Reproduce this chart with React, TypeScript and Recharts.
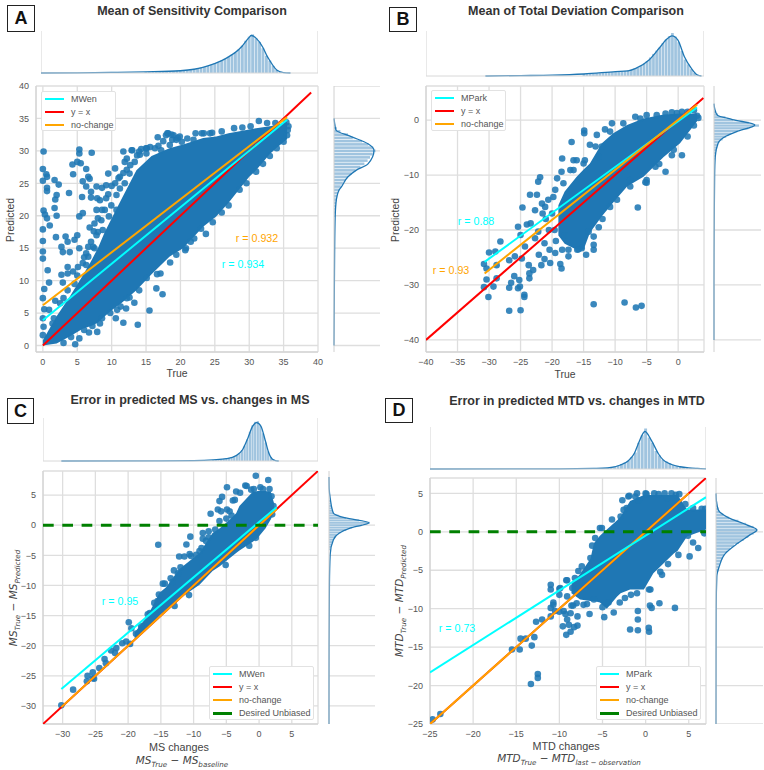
import { ComposedChart, Area, Bar, Line, Scatter, XAxis, YAxis, CartesianGrid } from "recharts";

const BLUE = "#1f77b4";
const HIST = "#a0c4df";
const GRID = "#dedede";
const CYAN = "#00ffff";
const RED = "#ff0000";
const ORANGE = "#ffa500";
const GREEN = "#008000";
const TICK = "#555555";
const SANS = "'Liberation Sans', Arial, sans-serif";

// panel A: Mean of Sensitivity
const aXTicks = [0, 5, 10, 15, 20, 25, 30, 35, 40];
const aYTicks = [0, 5, 10, 15, 20, 25, 30, 35, 40];
const aCloudX = [0, 2, 3.9, 5.8, 7, 8, 9, 10.2, 11.4, 13.6, 15.8, 18.4, 20.4, 23.3, 25.2, 27, 30, 31, 33, 34, 35.5];
const aCloudLow = [0, 0.3, 1.4, 2.6, 3, 3.5, 4.5, 5.6, 6.5, 8.5, 11, 13.7, 15, 18.3, 19.9, 22, 26, 27, 29.5, 30.5, 31.8];
const aCloudHigh = [0.8, 4.5, 7.5, 10.8, 13, 15, 17.5, 20, 22.5, 27, 29.2, 30.4, 31, 32, 32.2, 32.7, 33.3, 33.5, 33.8, 34, 34.5];
const aPoints = [
  [0.1, 29.9], [0, 27.2], [0.5, 26.4], [0.6, 26], [0, 25.4], [0.6, 24.3], [1.7, 25.5], [2.3, 24.8], [4.3, 27.9], [5, 28.3], [5.5, 28.1],
  [5.3, 30.2], [5.3, 29.6], [7.1, 29.7], [6.3, 27.2], [4.4, 26.4], [6.6, 26], [6.8, 25.7], [9.5, 26.5], [10.5, 27.3], [5.8, 25.3], [6.3, 24.5],
  [7.8, 24.5], [9.2, 24.7], [7, 23.7], [8.6, 24.3], [11.7, 29.9], [13, 30.1], [11.7, 26.6], [11.9, 28.3], [12.2, 27.1], [12.9, 30.1], [13.7, 29.3], [15.1, 30.4], [16.7, 32.1], [18.1, 32.7],
  [19, 32.4], [20.2, 31.4], [22.2, 32.7], [23.4, 32.7], [27.8, 33.5], [31.4, 34.6], [33.8, 34.3], [14, 29.9], [14.3, 30.3], [15.6, 30.6], [16.8, 30.8],
  [17.5, 31.5], [18.8, 31.7], [21, 31.9], [24.6, 32.8], [26, 33], [29, 33.6], [30.2, 33.8], [32.6, 34.3], [10.5, 25], [11, 25.8], [12.2, 28.8], [17.9, 32.4], [19.6, 32],
  [7.5, 18.8], [8.5, 19.3], [9, 20.9], [9.95, 21.6], [10.7, 23.2], [11.2, 24.2], [11.9, 25], [12.6, 26.5], [13.35, 28.3], [14.1, 29.4], [15.05, 29.6], [16.3, 30.4], [17.2, 30.1], [18.45, 30.9],
  [19.4, 31.7], [19.9, 32.2], [18.2, 32.7], [18.7, 32.5], [21.9, 31.7], [23.1, 32.7], [24.3, 32.7], [9.6, 19.9], [10.7, 20.9], [8.7, 17.8], [7.8, 17], [7.3, 15.2], [6.6, 13.7], [5.8, 12.7],
  [0.6, 23.8], [1.8, 22.5], [2, 23.2], [3.8, 23.5], [1.7, 21.2], [0.1, 20.8], [0.3, 20.2], [0.6, 19.6], [2, 20], [1, 18.5], [0, 17.9], [1.9, 16.7], [0, 16.1],
  [3.3, 16.8], [3.6, 16], [2.7, 15.2], [0, 14.5], [2.9, 14.4], [3.9, 14.4], [0, 13.4], [0.7, 11.6], [3.6, 12.1], [2.7, 10.9], [3.6, 11.1], [4.4, 11.4], [0.9, 9.7],
  [2.9, 9.7], [0.2, 8.7], [0, 7.3], [1.8, 6.9], [3, 7.3], [0.2, 5.6], [0.9, 5.5], [0, 4.2], [1.6, 4.2], [0.1, 2.9], [0, 1.6], [5, 17], [5.3, 15], [6.3, 14.2],
  [5.3, 19.9], [5.8, 20.4], [5.7, 22.9], [7.9, 22.7], [7.8, 20.9], [9.2, 22.7], [8.3, 22.4], [7, 22.8], [6.8, 18.2], [8, 17.5], [4.6, 16.3], [7, 16], [7.5, 15], [5.1, 12.1], [6.3, 12.4],
  [9.5, 23.3], [10, 24.6], [8.6, 20.9], [8, 19.6], [7.4, 17.6], [6.6, 15.2], [6, 13.6], [4.6, 9.5], [3.6, 8.5], [2.5, 6.5], [1.4, 3.4], [5, 10.8], [11.2, 26], [12.7, 27.8], [15, 30.4],
  [15.5, 5.4], [17.4, 7.9], [16.5, 8.8], [13.8, 3.2], [11.7, 3.5], [10.6, 4.2], [13.3, 6.6], [12.1, 5.7], [11.3, 6], [12.2, 7.3], [8.3, 3.4], [6.7, 2], [7.9, 2.1],
  [4.7, 0.2], [4.1, 1.3], [5.3, 1.1], [3, 0.4], [17.1, 11.1], [15.1, 10.4], [20.8, 15], [23.7, 17.2], [24.7, 19], [20.7, 14.7], [18.5, 12.8], [14, 8.5], [22, 16.5], [16.6, 11], [19.4, 14],
  [21.5, 16], [23, 18], [26, 20.5], [27, 21.6], [28.6, 24], [29.6, 25], [31, 26.8], [32, 28], [33, 29.2], [34, 30.4], [35, 31.4], [35.5, 32.4], [35.6, 33.2], [35.7, 33.8], [35.4, 34.4],
  [9.8, 5], [10.8, 5.5], [8.6, 4.2], [7.2, 3], [6, 2.4], [12.6, 7.4],
];
const aFitX = [0, 35.5];
const aCyan = [3.9, 34.8];
const aOrange = [6.2, 35.2];
const aRedX = [0, 39];
const aRed = [0, 39];
const aTopBins = [15, 15.5, 16, 16.5, 17, 17.5, 18, 18.5, 19, 19.5, 20, 20.5, 21, 21.5, 22, 22.5, 23, 23.5, 24, 24.5, 25, 25.5, 26, 26.5, 27, 27.5, 28, 28.5, 29, 29.5, 30, 30.5, 31, 31.5, 32, 32.5, 33, 33.5, 34, 34.5, 35];
const aTopBars = [0.03, 0.03, 0.04, 0.03, 0.04, 0.04, 0.04, 0.05, 0.05, 0.06, 0.07, 0.07, 0.08, 0.1, 0.11, 0.13, 0.15, 0.16, 0.19, 0.22, 0.26, 0.29, 0.33, 0.38, 0.43, 0.49, 0.55, 0.63, 0.73, 0.86, 0.97, 1.03, 0.93, 0.83, 0.66, 0.46, 0.33, 0.19, 0.08, 0.04, 0.01];
const aTopKdeX = [-0.3, 5, 10, 15, 20, 22, 24, 26, 27, 28, 29, 30, 30.3, 31, 32, 32.6, 33, 34, 35, 36];
const aTopKde = [0, 0.005, 0.015, 0.03, 0.06, 0.1, 0.19, 0.33, 0.43, 0.55, 0.72, 0.95, 1, 0.93, 0.68, 0.45, 0.33, 0.08, 0.01, 0];
const aSideBins = [20, 20.5, 21, 21.5, 22, 22.5, 23, 23.5, 24, 24.5, 25, 25.5, 26, 26.5, 27, 27.5, 28, 28.5, 29, 29.5, 30, 30.5, 31, 31.5, 32, 32.5, 33, 33.5, 34, 34.5];
const aSideBars = [0.03, 0.04, 0.04, 0.05, 0.05, 0.06, 0.08, 0.1, 0.13, 0.17, 0.22, 0.28, 0.35, 0.44, 0.54, 0.66, 0.76, 0.84, 0.9, 0.97, 1.04, 0.98, 0.86, 0.7, 0.47, 0.35, 0.16, 0.07, 0.03, 0.01];
const aSideKdeY = [0, 10, 18.9, 22, 24, 24.4, 26, 27, 28, 30.1, 31.1, 32.2, 33.2, 34.5, 35];
const aSideKde = [0, 0.01, 0.025, 0.05, 0.13, 0.18, 0.35, 0.55, 0.85, 1, 0.85, 0.43, 0.05, 0.01, 0];

// panel B: Mean of Total Deviation
const bXTicks = [-40, -35, -30, -25, -20, -15, -10, -5, 0];
const bYTicks = [-40, -30, -20, -10, 0];
const bCloudX = [-19, -18, -16.1, -15, -14, -12.1, -10.3, -8.1, -5.5, -2.3, 0.3, 3];
const bCloudLow = [-21, -22.5, -23.6, -23.6, -20.5, -17.5, -15, -12.1, -10.3, -6.7, -4.2, -0.2];
const bCloudHigh = [-15.5, -13, -10.3, -9, -7.9, -4.2, -2.4, -0.9, 0.3, 1, 1.2, 1.2];
const bPoints = [
  [-14.9, -1.9], [-14.9, -2.4], [-16.9, -4], [-18.4, -7], [-12.9, -2.7], [-11.6, -1.7], [-10.5, -0.6], [-6.8, 0.6], [-2, 1.2], [0.6, 1.5], [3.2, 0.4], [0.6, -6.4], [-2, -9.4],
  [-5.2, -11.3], [-21.9, -10.4], [-22.2, -11.2], [-19.2, -10.6], [-18.5, -9.4], [-16.6, -7.3], [-14.8, -7.3], [-13.1, -4.8], [-12.6, -6.7], [-19.5, -12.7],
  [-14, -4.5], [-12.1, -4.8], [-10.8, -2.1], [-8.7, -0.6], [-6, 0.3], [-3.4, 0.9], [-0.2, 1.3], [2.5, 1.8], [-5, 0.9], [-1, 1.4], [1.5, 1.5], [-6.4, -15.9], [-24.7, -15.9], [-23.5, -13.6], [-22.4, -13.6],
  [-25.4, -19.4], [-28.2, -22.1], [-25, -20.9], [-30, -24.1], [-29, -23.9], [-30.8, -26.2], [-30.4, -27], [-28.8, -26.4], [-26.8, -25.5], [-25.9, -24.8],
  [-24.8, -25.2], [-23.4, -18.8], [-22.7, -16.4], [-21.6, -15.2], [-30.4, -29], [-28.8, -28.8], [-30.8, -30.4], [-29.3, -30.3], [-30.1, -32.2], [-26, -28.4],
  [-25.2, -29.1], [-26.5, -29.6], [-26.8, -30.5], [-25.1, -30.3], [-25.4, -30.6], [-24.4, -31.8], [-24.4, -32.2], [-26.8, -34.7], [-25, -34.6], [-23.6, -28.8],
  [-23.6, -27.9], [-23, -27.3], [-23.7, -26.4], [-22.1, -24.5], [-21.7, -26.4], [-21.2, -25.3], [-20.3, -26], [-18.5, -27], [-18.7, -26.2], [-17.4, -24.8],
  [-19.5, -24.2], [-18.4, -23.6], [-17.4, -23.6], [-13.4, -33.5], [-8.5, -33.2], [-6.7, -34.1], [-5.8, -33.8], [-13.4, -23.6], [-13.4, -22.7], [-13.4, -21.2],
  [-14.6, -24.5], [-14.2, -20.3], [-15.3, -23.3], [-15.8, -23.5], [-24.3, -23], [-22.7, -21.5], [-22.2, -20.3], [-21.2, -22.4], [-20.4, -23.6], [-21.1, -15.8],
  [-20.6, -14.5], [-21, -18], [-20.5, -20], [-21.5, -17], [-19.8, -14], [-24, -19], [-18.2, -11.5], [-17.1, -9.1], [-16.6, -9.1], [-16.1, -7.3], [-15, -7.9],
  [-0.7, -5.4], [-5, -10.9], [-3.6, -8.5], [-7.6, -12.1], [-7.6, -10.9], [-9.7, -14.5], [-10.8, -15.8], [-5, -11.4], [-12, -18], [-12.6, -19.5], [-1, -6.4], [-3, -8], [1.5, -3], [2.5, -1], [3, 0.8],
  [-18, -15], [-20, -17], [-19.4, -22], [-19.6, -20], [-18, -21], [-16, -23.6],
];
const bFitX = [-30.7, 3];
const bCyan = [-25.8, 2.3];
const bOrange = [-27.9, 2.8];
const bRedX = [-40, 4];
const bRed = [-40, 4];
const bTopBins = [-15, -14.5, -14, -13.5, -13, -12.5, -12, -11.5, -11, -10.5, -10, -9.5, -9, -8.5, -8, -7.5, -7, -6.5, -6, -5.5, -5, -4.5, -4, -3.5, -3, -2.5, -2, -1.5, -1, -0.5, 0, 0.5, 1, 1.5, 2, 2.5, 3];
const bTopBars = [0.05, 0.05, 0.06, 0.06, 0.07, 0.07, 0.08, 0.09, 0.1, 0.1, 0.11, 0.11, 0.12, 0.13, 0.14, 0.15, 0.18, 0.21, 0.25, 0.31, 0.37, 0.46, 0.55, 0.63, 0.71, 0.82, 0.91, 0.99, 1.07, 0.98, 0.84, 0.62, 0.41, 0.29, 0.17, 0.08, 0.02];
const bTopKdeX = [-30.6, -25, -20, -15, -10, -8, -6.8, -4.7, -3.1, -2, -1.06, -0.15, 0.9, 2, 3, 3.6];
const bTopKde = [0, 0.01, 0.02, 0.05, 0.11, 0.13, 0.19, 0.4, 0.69, 0.9, 1, 0.9, 0.48, 0.19, 0.02, 0];
const bSideBins = [-7, -6.5, -6, -5.5, -5, -4.5, -4, -3.5, -3, -2.5, -2, -1.5, -1, -0.5, 0, 0.5, 1, 1.5, 2];
const bSideBars = [0.03, 0.04, 0.05, 0.07, 0.08, 0.1, 0.13, 0.21, 0.3, 0.42, 0.58, 0.84, 1.1, 0.85, 0.46, 0.28, 0.1, 0.05, 0.02];
const bSideKdeY = [-40, -30, -20, -10, -6.7, -4.2, -2.9, -2.1, -0.9, 0.1, 0.9, 2, 3];
const bSideKde = [0, 0, 0.005, 0.015, 0.03, 0.1, 0.3, 0.55, 1, 0.45, 0.08, 0.02, 0];

// panel C: error vs. changes in MS
const cXTicks = [-30, -25, -20, -15, -10, -5, 0, 5];
const cYTicks = [-30, -25, -20, -15, -10, -5, 0, 5];
const cCloudX = [-19, -17, -15.2, -14.2, -12.2, -9.1, -7.1, -6, -4.5, -3.5, -3, -1, -0.2, 1, 1.8, 2.3];
const cCloudLow = [-18.8, -17, -15, -14, -12.2, -9.9, -7.6, -6.8, -5.5, -4.6, -4.2, -2.8, -2.1, -0.5, 1, 2.2];
const cCloudHigh = [-17.8, -15, -11.2, -10.3, -7.3, -4.6, -1.3, -0.5, 0.9, 2, 3.2, 5.5, 5.7, 5.7, 5.5, 3.6];
const cPoints = [
  [-0.5, 8.2], [1.4, 7.5], [-4.9, 6.3], [-2.1, 6.6], [-1.9, 6.5], [0.2, 6.3], [1.6, 6], [-3.5, 5.6], [-5.65, 4.7], [-6.05, 4], [-4, 4.1], [-3.7, 4.2], [-6.3, 2.6],
  [-4.9, 2.6], [-4.5, 2.3], [-7.4, 1.9], [-5.8, 2.3], [-6.05, 0.7], [-5, 1.1], [-8.6, -1.3], [-7.7, -1], [-10.5, -1.9], [-8.6, -2.25], [-15.4, -3.25],
  [-11.1, -3.2], [-8.1, -2.6], [-9.1, -4.3], [-12.2, -5.2], [-11.4, -5.2], [-10.4, -5.1], [-9.6, -4.9], [-12.4, -8], [-5.1, -6.6], [-1.5, -3.4], [-0.5, -2.1],
  [-19.9, -16.1], [-14.7, -9.7], [-14.4, -9.7], [-13.2, -9.4], [-15.3, -11.5], [-15.5, -12.6], [-16, -12.9], [-16.7, -14.6], [-10.7, -11.6], [-12.9, -13.4], [-28.4, -27.3],
  [-30.2, -29.9], [-26.3, -25.9], [-26.2, -25], [-25.4, -25.4], [-25.2, -25.5], [-25.4, -24.4], [-24.4, -23.7], [-23.6, -22.2], [-23.4, -22.9], [-22.6, -20.8],
  [-21.8, -20.4], [-22, -21.2], [-20.9, -19.6], [-19.7, -19.7], [-20.3, -19.3], [-18.8, -18], [-19.5, -17.1], [-18, -16.8], [-17, -14.8], [-13, -7.5], [-12, -7],
  [-13.5, -8.8], [1.9, 4.8], [-0.8, 6], [-2.9, 5.4], [-1.2, 5.9], [0.6, 6], [-15, -14], [-13, -12.5], [-11.5, -10.5], [-10.6, -4.8], [-8.8, -3.8], [-7.7, -2], [-6.7, -0.7], [-4.2, 1.6], [2.2, 3.2], [2, 1.8],
];
const cFitX = [-30.2, 2.7];
const cCyan = [-27.2, 3];
const cOrange = [-30.2, 2.7];
const cRedX = [-33, 9];
const cRed = [-33, 9];
const cTopBins = [-7, -6.6, -6.2, -5.8, -5.4, -5, -4.6, -4.2, -3.8, -3.4, -3, -2.6, -2.2, -1.8, -1.4, -1, -0.6, -0.2, 0.2, 0.6, 1, 1.4, 1.8, 2.2];
const cTopBars = [0.03, 0.03, 0.04, 0.05, 0.05, 0.06, 0.08, 0.1, 0.12, 0.15, 0.2, 0.28, 0.4, 0.56, 0.76, 0.93, 1.02, 1.04, 0.92, 0.72, 0.48, 0.25, 0.1, 0.03];
const cTopKdeX = [-30.2, -15, -10, -7, -5, -3.5, -2.5, -1.7, -1, -0.36, 0.3, 1, 1.5, 2, 2.5, 3];
const cTopKde = [0, 0.003, 0.01, 0.03, 0.06, 0.14, 0.3, 0.6, 0.9, 1, 0.9, 0.5, 0.2, 0.05, 0.01, 0];
const cSideBins = [-4, -3.6, -3.2, -2.8, -2.4, -2, -1.6, -1.2, -0.8, -0.4, 0, 0.4, 0.8, 1.2, 1.6, 2, 2.4, 2.8, 3.2, 3.6, 4];
const cSideBars = [0.04, 0.05, 0.07, 0.09, 0.11, 0.15, 0.2, 0.29, 0.43, 0.58, 0.82, 1.02, 0.75, 0.43, 0.24, 0.12, 0.09, 0.07, 0.05, 0.04, 0.03];
const cSideKdeY = [-33, -30, -20, -10, -4.8, -2.4, -1.3, -0.4, 0.4, 1.2, 2, 4.5, 6, 8];
const cSideKde = [0, 0, 0.002, 0.01, 0.03, 0.11, 0.26, 0.56, 1, 0.41, 0.11, 0.03, 0.005, 0];

// panel D: error vs. changes in MTD
const dXTicks = [-25, -20, -15, -10, -5, 0, 5];
const dYTicks = [-25, -20, -15, -10, -5, 0, 5];
const dCloudX = [-8.6, -7.6, -6.4, -6, -5.3, -4.5, -3.3, -2.9, -1.8, -0.2, 0.9, 3.3, 3.7, 4.8, 7];
const dCloudLow = [-8, -8.8, -9, -9, -9.2, -10, -8.4, -8, -7.5, -7.5, -5.4, -2.8, -2.5, -0.6, 0.3];
const dCloudHigh = [-6.8, -5.5, -3.5, -1.5, -0.5, 0.3, 1.5, 2, 4, 4.8, 4.8, 4.8, 4.8, 2.9, 2.9];
const dPoints = [
  [-2.7, 4.1], [-2.2, 3.1], [-2.9, 2], [-3.9, 1.6], [-5.07, 0.5], [-5.85, -0.8], [-6.2, -1.8], [-6.4, -3.4], [-7.4, -4.5], [-7.8, -5.1], [-8.2, -6], [-9.1, -6.3], [-9.9, -7.3],
  [-11, -6.9], [-11, -7.5], [-9.1, -8.4], [-10.7, -9.2], [-11, -9.9], [-9.5, -10.3], [-8, -9.3], [-8.4, -9.6], [-7.9, -11], [-6.5, -10.7], [-4.8, -11.1], [-3.7, -10.5], [-4.3, -9.2], [-6, -8.8],
  [0.55, -7.5], [0.5, -9.6], [1.6, -9.3], [3.4, -9.9], [5.1, -3.2], [6.1, -2.1], [5.5, -1.4], [6.8, -0.2], [-0.9, -10.3], [-0.9, -11.4], [-1.8, -12.7], [0.36, -12.5], [-0.8, 4.1], [0.1, 4.9], [1.5, 4.9],
  [3.5, 4.8], [-1.2, 4.6], [2.5, 4.4], [-2.55, 2.85], [-5.3, 0.5], [-10, -7.4], [-10, -8.2], [-10.7, -9.5], [-10.5, -10.3], [-11, -11], [-10, -10.4], [-9.3, -10.7], [-9.2, -6.3], [-8.5, -7.3],
  [-8.6, -9.6], [-7.2, -9.5], [-9.1, -11.4], [-8.7, -10.6], [-9.6, -12.3], [-7.9, -12.2], [-8.9, -12.1], [-9.2, -13.4], [-8.7, -13], [-8.3, -12.4], [-0.9, -12.8], [0.4, -13], [0.7, -9.9],
  [-12.7, -11.7], [-12, -11.4], [-12.9, -13.7], [-14.5, -13.9], [-13.9, -13.9], [-15.5, -15.3], [-14.6, -15.3], [-13.2, -14.8], [-13.3, -19.8], [-12.5, -18.5], [-12.5, -19], [-24.7, -24.4],
  [-23.8, -23.7], [-1.7, -8.2], [0.4, -7.5], [1.9, -5.6], [-3, -9.2], [-2.4, -8.6], [-1, -8], [-2, 4.6], [-1, 5], [0, 5], [1, 5], [2.2, 5], [3, 5], [3.9, 4.9], [4.6, 3.6], [-1.9, 4.7], [6.9, 3], [6.5, 3], [5.5, 3.1], [4.9, -0.5],
  [3.8, -3], [2.6, -4.2], [1.7, -5.2], [-7, -7], [-5, -9.8], [-6.8, -9.4],
];
const dFitX = [-25, 7];
const dCyan = [-18.3, 4.5];
const dOrangeX = [-25, 5];
const dOrange = [-25, 5];
const dRedX = [-25, 7];
const dRed = [-25, 7];
const dTopBins = [-6, -5.6, -5.2, -4.8, -4.4, -4, -3.6, -3.2, -2.8, -2.4, -2, -1.6, -1.2, -0.8, -0.4, 0, 0.4, 0.8, 1.2, 1.6, 2, 2.4, 2.8, 3.2, 3.6, 4, 4.4, 4.8, 5.2, 5.6, 6];
const dTopBars = [0.015, 0.015, 0.02, 0.02, 0.03, 0.04, 0.06, 0.09, 0.12, 0.17, 0.22, 0.32, 0.44, 0.7, 0.9, 1.08, 0.84, 0.7, 0.48, 0.36, 0.25, 0.2, 0.15, 0.11, 0.08, 0.06, 0.05, 0.04, 0.03, 0.02, 0.015];
const dTopKdeX = [-25, -15, -10, -6, -5, -4, -3, -2, -1.3, -0.8, -0.08, 0.7, 1.5, 2, 3, 4, 5, 6, 7];
const dTopKde = [0, 0.002, 0.005, 0.015, 0.02, 0.04, 0.1, 0.22, 0.42, 0.7, 1, 0.75, 0.4, 0.25, 0.12, 0.06, 0.03, 0.015, 0.005];
const dSideBins = [-5, -4.6, -4.2, -3.8, -3.4, -3, -2.6, -2.2, -1.8, -1.4, -1, -0.6, -0.2, 0.2, 0.6, 1, 1.4, 1.8, 2.2, 2.6, 3, 3.4, 3.8, 4.2, 4.6];
const dSideBars = [0.06, 0.07, 0.09, 0.13, 0.17, 0.2, 0.27, 0.35, 0.44, 0.56, 0.68, 0.79, 0.92, 1.01, 0.92, 0.74, 0.55, 0.32, 0.18, 0.09, 0.06, 0.04, 0.03, 0.02, 0.01];
const dSideKdeY = [-25, -10, -5.8, -4.5, -2.8, -1.5, -0.4, 0.25, 0.9, 1.85, 2.8, 4, 5];
const dSideKde = [0, 0.005, 0.02, 0.08, 0.23, 0.53, 0.83, 1, 0.75, 0.3, 0.06, 0.01, 0];

const zip = (xs: number[], ys: number[]) => xs.map((x, i) => ({ x, y: ys[i] }));
const minus = (v: number) => String(v).replace("-", "\u2212");

function dot(p: any) {
  return <circle cx={p.cx} cy={p.cy} r={3.3} fill={BLUE} fillOpacity={0.88} />;
}

function MainPlot({ left, top, width, height, yw, xDomain, yDomain, xTicks, yTicks, cloudX, cloudLow, cloudHigh, points, fits, dashed }: any) {
  const cloud = cloudX.map((x: number, i: number) => ({ x, band: [cloudLow[i], cloudHigh[i]] }));
  const pts = points.map((p: number[]) => ({ x: p[0], y: p[1] }));
  return (
    <div style={{ position: "absolute", left: left - yw, top: top - 8 }}>
      <ComposedChart width={width + yw + 10} height={height + 8 + 20} data={cloud} margin={{ top: 8, right: 10, bottom: 0, left: 0 }}>
        <CartesianGrid stroke={GRID} strokeWidth={1.3} />
        <XAxis dataKey="x" type="number" domain={xDomain} ticks={xTicks} interval={0} allowDataOverflow height={20} stroke="#d0d0d0" tickLine={false} tickMargin={1} tickFormatter={minus} tick={{ fill: TICK, fontSize: 9, fontFamily: SANS }} />
        <YAxis dataKey="y" type="number" domain={yDomain} ticks={yTicks} interval={0} allowDataOverflow width={yw} stroke="#d0d0d0" tickLine={false} tickMargin={1} tickFormatter={minus} tick={{ fill: TICK, fontSize: 9, fontFamily: SANS }} />
        <Area dataKey="band" type="linear" stroke="none" fill={BLUE} fillOpacity={1} dot={false} activeDot={false} isAnimationActive={false} />
        <Scatter data={pts} shape={dot} isAnimationActive={false} />
        {fits.map((f: any, i: number) => (
          <Line key={i} data={f.data} dataKey="y" type="linear" stroke={f.color} strokeWidth={2} dot={false} activeDot={false} isAnimationActive={false} zIndex={700 + i} />
        ))}
        {dashed ? (
          <Line data={zip(xDomain, [0, 0])} dataKey="y" type="linear" stroke={GREEN} strokeWidth={3} strokeDasharray="10.7 8.6" dot={false} activeDot={false} isAnimationActive={false} zIndex={710} />
        ) : null}
      </ComposedChart>
    </div>
  );
}

function TopMarginal({ left, top, width, height, domain, ticks, bins, bars, kdeX, kde, thick }: any) {
  const table = bins.map((x: number, i: number) => ({ x, v: bars[i] }));
  const curve = kdeX.map((x: number, i: number) => ({ x, k: kde[i] }));
  const bar = (p: any) => <rect x={p.x + p.width / 2 - thick / 2} y={p.y} width={thick} height={p.height} fill={HIST} />;
  return (
    <div style={{ position: "absolute", left, top }}>
      <ComposedChart width={width} height={height + 2} data={table} margin={{ top: 0, right: 0, bottom: 0, left: 0 }}>
        <CartesianGrid stroke={GRID} strokeWidth={1.3} horizontal={false} />
        <XAxis dataKey="x" type="number" domain={domain} ticks={ticks} allowDataOverflow height={2} tick={false} tickLine={false} stroke="#d8d8d8" />
        <YAxis type="number" domain={[0, 1.12]} hide />
        <Bar dataKey="v" shape={bar} isAnimationActive={false} />
        <Line data={curve} dataKey="k" type="monotone" stroke={BLUE} strokeWidth={1.3} dot={false} activeDot={false} isAnimationActive={false} />
      </ComposedChart>
    </div>
  );
}

function SideMarginal({ left, top, width, height, domain, ticks, bins, bars, kdeY, kde, thick }: any) {
  const table = bins.map((y: number, i: number) => ({ y, v: bars[i] }));
  const curve = kdeY.map((y: number, i: number) => ({ y, k: kde[i] }));
  const bar = (p: any) => <rect x={p.x} y={p.y + p.height / 2 - thick / 2} width={p.width} height={thick} fill={HIST} />;
  return (
    <div style={{ position: "absolute", left, top }}>
      <ComposedChart layout="vertical" width={width} height={height} data={table} margin={{ top: 0, right: 0, bottom: 0, left: 0 }}>
        <XAxis type="number" domain={[0, 1.15]} hide />
        <YAxis dataKey="y" type="number" reversed domain={domain} allowDataOverflow width={1} tick={false} tickLine={false} stroke="#d0d0d0" />
        {/* the grid would not draw in a vertical layout, so its rows are plain lines */}
        {ticks.map((t: number) => (
          <Line key={t} data={[{ y: t, k: 0 }, { y: t, k: 1.15 }]} dataKey="k" type="linear" stroke={GRID} strokeWidth={1.3} dot={false} activeDot={false} isAnimationActive={false} zIndex={100} />
        ))}
        <Bar dataKey="v" shape={bar} isAnimationActive={false} />
        <Line data={curve} dataKey="k" type="monotone" stroke={BLUE} strokeWidth={1.3} dot={false} activeDot={false} isAnimationActive={false} />
      </ComposedChart>
    </div>
  );
}

function Note({ x, y, color, children, size = 10.5, weight = 400, rotate = 0, family = SANS }: any) {
  return (
    <div style={{ position: "absolute", left: x, top: y, transform: `translate(-50%,-50%) rotate(${rotate}deg)`, color, fontSize: size, fontWeight: weight, fontFamily: family, whiteSpace: "nowrap", lineHeight: 1 }}>
      {children}
    </div>
  );
}

function Tag({ x, y, w, h, text }: any) {
  return (
    <div style={{ position: "absolute", left: x, top: y, width: w, height: h, boxSizing: "border-box", border: "1.6px solid #222", background: "#fff", display: "flex", alignItems: "center", justifyContent: "center", fontFamily: SANS, fontWeight: 700, fontSize: 18, color: "#111" }}>
      {text}
    </div>
  );
}

function Key({ x, y, w, h, items, lineX, lineW, textX, gap }: any) {
  return (
    <div style={{ position: "absolute", left: x, top: y, width: w, height: h, boxSizing: "border-box", border: "1px solid #e2e2e2", borderRadius: 2, background: "#fff" }}>
      {items.map((it: any, i: number) => (
        <div key={i}>
          <div style={{ position: "absolute", left: lineX, top: 6 + i * gap, width: lineW, height: it.thick ? 3 : 2, background: it.color }} />
          <div style={{ position: "absolute", left: textX, top: 1 + i * gap, fontFamily: SANS, fontSize: 9, color: TICK, lineHeight: "12px", whiteSpace: "nowrap" }}>{it.label}</div>
        </div>
      ))}
    </div>
  );
}

const Sub = ({ children }: any) => <sub style={{ fontSize: "68%", verticalAlign: "-3px", lineHeight: 0 }}>{children}</sub>;
const MATH = "'DejaVu Sans', sans-serif";

export default function App() {
  return (
    <div style={{ position: "absolute", left: 0, top: 0, width: 764, height: 770, overflow: "hidden", background: "#fff" }}>
      {/* A */}
      <TopMarginal left={41} top={31} width={277} height={42} domain={[-0.25, 40]} ticks={aXTicks} bins={aTopBins} bars={aTopBars} kdeX={aTopKdeX} kde={aTopKde} thick={2.9} />
      <MainPlot left={36} top={86} width={282} height={266} yw={36} xDomain={[-1, 40]} yDomain={[-1, 40]} xTicks={aXTicks} yTicks={aYTicks}
        cloudX={aCloudX} cloudLow={aCloudLow} cloudHigh={aCloudHigh} points={aPoints}
        fits={[{ color: RED, data: zip(aRedX, aRed) }, { color: CYAN, data: zip(aFitX, aCyan) }, { color: ORANGE, data: zip(aFitX, aOrange) }]} />
      <SideMarginal left={333} top={86} width={47} height={266} domain={[-1, 40]} ticks={aYTicks} bins={aSideBins} bars={aSideBars} kdeY={aSideKdeY} kde={aSideKde} thick={2.6} />
      <Key x={41} y={91} w={75} h={40} lineX={3} lineW={19} textX={29} gap={12.8} items={[{ color: CYAN, label: "MWen" }, { color: RED, label: "y = x" }, { color: ORANGE, label: "no-change" }]} />
      <Tag x={7} y={5} w={28} h={27} text="A" />
      <Note x={192} y={11} color="#333" size={12.5} weight={700}>Mean of Sensitivity Comparison</Note>
      <Note x={257} y={238} color={ORANGE} size={10.7}>r = 0.932</Note>
      <Note x={243} y={264} color={CYAN} size={10.7}>r = 0.934</Note>
      <Note x={177} y={374} color="#444" size={10.4}>True</Note>
      <Note x={11} y={220} color="#444" size={10.4} rotate={-90}>Predicted</Note>

      {/* B */}
      <TopMarginal left={426} top={31} width={278} height={45} domain={[-40, 4]} ticks={bXTicks} bins={bTopBins} bars={bTopBars} kdeX={bTopKdeX} kde={bTopKde} thick={2.7} />
      <MainPlot left={426} top={86} width={278} height={266} yw={36} xDomain={[-40, 4.1]} yDomain={[-42.2, 6.2]} xTicks={bXTicks} yTicks={bYTicks}
        cloudX={bCloudX} cloudLow={bCloudLow} cloudHigh={bCloudHigh} points={bPoints}
        fits={[{ color: RED, data: zip(bRedX, bRed) }, { color: CYAN, data: zip(bFitX, bCyan) }, { color: ORANGE, data: zip(bFitX, bOrange) }]} />
      <SideMarginal left={713} top={86} width={48} height={266} domain={[-42.2, 6.2]} ticks={bYTicks} bins={bSideBins} bars={bSideBars} kdeY={bSideKdeY} kde={bSideKde} thick={2.3} />
      <Key x={431} y={90} w={75} h={41} lineX={3} lineW={19} textX={29} gap={12.8} items={[{ color: CYAN, label: "MPark" }, { color: RED, label: "y = x" }, { color: ORANGE, label: "no-change" }]} />
      <Tag x={389} y={7} w={28} h={25} text="B" />
      <Note x={576} y={11} color="#333" size={12.5} weight={700}>Mean of Total Deviation Comparison</Note>
      <Note x={476} y={221} color={CYAN} size={10.7}>r = 0.88</Note>
      <Note x={451} y={270} color={ORANGE} size={10.7}>r = 0.93</Note>
      <Note x={565} y={375} color="#444" size={10.4}>True</Note>
      <Note x={396} y={220} color="#444" size={10.4} rotate={-90}>Predicted</Note>

      {/* C */}
      <TopMarginal left={43} top={418} width={275} height={43} domain={[-33, 9]} ticks={cXTicks} bins={cTopBins} bars={cTopBars} kdeX={cTopKdeX} kde={cTopKde} thick={2.2} />
      <MainPlot left={43} top={471} width={275} height={253} yw={36} xDomain={[-33, 9]} yDomain={[-33, 9]} xTicks={cXTicks} yTicks={cYTicks}
        cloudX={cCloudX} cloudLow={cCloudLow} cloudHigh={cCloudHigh} points={cPoints} dashed
        fits={[{ color: RED, data: zip(cRedX, cRed) }, { color: ORANGE, data: zip(cFitX, cOrange) }, { color: CYAN, data: zip(cFitX, cCyan) }]} />
      <SideMarginal left={328} top={471} width={47} height={253} domain={[-33, 9]} ticks={cYTicks} bins={cSideBins} bars={cSideBars} kdeY={cSideKdeY} kde={cSideKde} thick={2} />
      <Key x={209} y={666} w={105} h={54} lineX={3} lineW={19} textX={29} gap={12.9} items={[{ color: CYAN, label: "MWen" }, { color: RED, label: "y = x" }, { color: ORANGE, label: "no-change" }, { color: GREEN, label: "Desired Unbiased", thick: true }]} />
      <Tag x={7} y={398} w={27} h={26} text="C" />
      <Note x={190} y={400} color="#333" size={12.5} weight={700}>Error in predicted MS vs. changes in MS</Note>
      <Note x={120} y={601} color={CYAN} size={10.7}>r = 0.95</Note>
      <Note x={179} y={747} color="#444" size={10.8}>MS changes</Note>
      <Note x={182} y={760} color="#444" size={10.5} family={MATH}><i>MS<Sub>True</Sub> − MS<Sub>baseline</Sub></i></Note>
      <Note x={13} y={598} color="#444" size={10.5} family={MATH} rotate={-90}><i>MS<Sub>True</Sub> − MS<Sub>Predicted</Sub></i></Note>

      {/* D */}
      <TopMarginal left={430} top={427} width={276} height={42} domain={[-25, 7]} ticks={dXTicks} bins={dTopBins} bars={dTopBars} kdeX={dTopKdeX} kde={dTopKde} thick={2.9} />
      <MainPlot left={430} top={478} width={276} height={246} yw={36} xDomain={[-25, 7]} yDomain={[-25, 7]} xTicks={dXTicks} yTicks={dYTicks}
        cloudX={dCloudX} cloudLow={dCloudLow} cloudHigh={dCloudHigh} points={dPoints} dashed
        fits={[{ color: RED, data: zip(dRedX, dRed) }, { color: ORANGE, data: zip(dOrangeX, dOrange) }, { color: CYAN, data: zip(dFitX, dCyan) }]} />
      <SideMarginal left={715} top={478} width={48} height={246} domain={[-25, 7]} ticks={dYTicks} bins={dSideBins} bars={dSideBars} kdeY={dSideKdeY} kde={dSideKde} thick={2.6} />
      <Key x={596} y={666} w={105} h={54} lineX={3} lineW={19} textX={29} gap={12.9} items={[{ color: CYAN, label: "MPark" }, { color: RED, label: "y = x" }, { color: ORANGE, label: "no-change" }, { color: GREEN, label: "Desired Unbiased", thick: true }]} />
      <Tag x={385} y={398} w={28} h={25} text="D" />
      <Note x={577} y={401} color="#333" size={12.5} weight={700}>Error in predicted MTD vs. changes in MTD</Note>
      <Note x={457} y={628} color={CYAN} size={10.7}>r = 0.73</Note>
      <Note x={566} y={746} color="#444" size={10.8}>MTD changes</Note>
      <Note x={569} y={758} color="#444" size={10.5} family={MATH}><i>MTD<Sub>True</Sub> − MTD<Sub>last − observation</Sub></i></Note>
      <Note x={399} y={601} color="#444" size={10.5} family={MATH} rotate={-90}><i>MTD<Sub>True</Sub> − MTD<Sub>Predicted</Sub></i></Note>
    </div>
  );
}
